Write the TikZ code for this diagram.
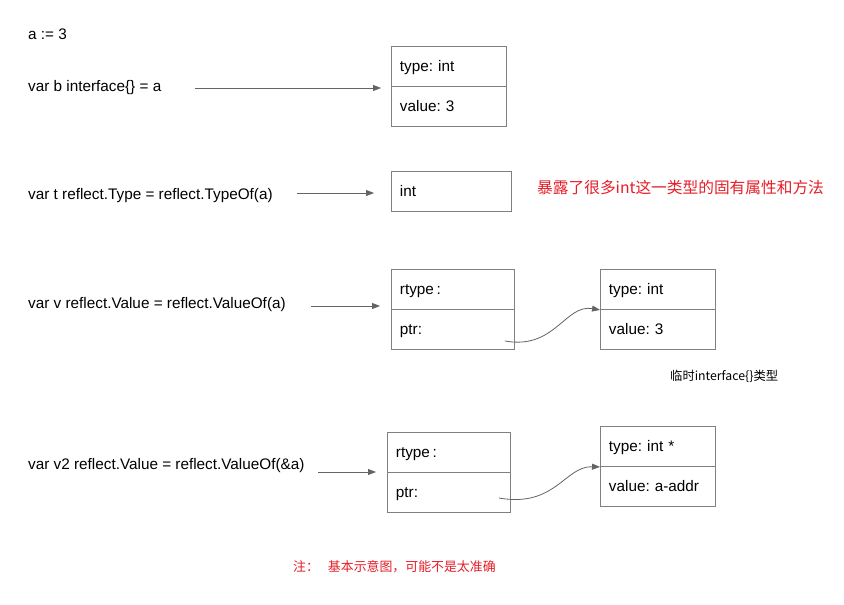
\documentclass[tikz,border=0pt]{standalone}
\usepackage{fontspec}
\setmainfont{Liberation Sans}
\newfontfamily\cjk{Noto Sans CJK SC}
\usetikzlibrary{arrows.meta}
\frenchspacing
\definecolor{linegray}{RGB}{100,100,100}
\definecolor{boxgray}{RGB}{128,128,128}
\definecolor{notered}{RGB}{230,30,40}
\tikzset{
  txt/.style={anchor=west,inner sep=0pt,font=\fontsize{15.3}{17}\selectfont},
  cell/.style={draw=boxgray,line width=0.9pt,minimum height=40pt,anchor=north west,inner ysep=0pt,inner xsep=8.5pt,
     text width=#1-17pt,minimum width=#1,align=left,font=\fontsize{15.3}{17}\selectfont,text depth=0pt},
  conn/.style={draw=linegray,line width=0.8pt,-{Triangle[length=8pt,width=6pt]}},
}
\begin{document}
\begin{tikzpicture}[x=1pt,y=-1pt]
\useasboundingbox[fill=white] (0,0) rectangle (844,605);
% texts
\node[txt] (ta) at (28,34) {a := 3};
\node[txt] (tb) at (28,88) {var b interface\{\} = a};
\node[txt] (tt) at (28,196) {var t reflect.Type = reflect.TypeOf(a)};
\node[txt] (tv) at (28,305) {var v reflect.Value = reflect.ValueOf(a)};
\node[txt] (tv2) at (28,466) {var v2 reflect.Value = reflect.ValueOf(\&a)};
% box b
\node[cell=115pt] (b1) at (391,46) {type: int};
\node[cell=115pt] (b2) at (391,86) {value: 3};
% box t
\node[cell=120pt] (t1) at (391,171) {int};
% box v
\node[cell=123pt] (v1) at (391,269) {rtype\,:};
\node[cell=123pt] (v2) at (391,309) {ptr:};
\node[cell=115pt] (w1) at (600,269) {type: int};
\node[cell=115pt] (w2) at (600,309) {value: 3};
% box v2
\node[cell=123pt] (x1) at (387,432) {rtype\,:};
\node[cell=123pt] (x2) at (387,472) {ptr:};
\node[cell=115pt] (y1) at (600,426) {type: int *};
\node[cell=115pt] (y2) at (600,466) {value: a-addr};
% arrows
\coordinate (sb) at (195,88);  \coordinate (eb) at (381,88);
\coordinate (st) at (297,193); \coordinate (et) at (374,193);
\coordinate (sv) at (311,306); \coordinate (ev) at (380,306);
\coordinate (sv2) at (318,472); \coordinate (ev2) at (376,472);
\draw[conn] (sb) -- (eb);
\draw[conn] (st) -- (et);
\draw[conn] (sv) -- (ev);
\draw[conn] (sv2) -- (ev2);
\coordinate (pv) at (505,341);
\coordinate (pv2) at (499,498);
\draw[conn] (pv) .. controls (555,350) and (565,304) .. (w1.south west);
\draw[conn] (pv2) .. controls (555,508) and (565,466) .. (y1.south west);
% notes
\node[anchor=west,inner sep=0pt,text=notered,font=\cjk\fontsize{15.7}{18}\selectfont] (n1) at (537,188) {暴露了很多int这一类型的固有属性和方法};
\node[anchor=west,inner sep=0pt,font=\cjk\fontsize{12.3}{14}\selectfont] (n2) at (670,376) {临时interface\{\}类型};
\node[anchor=west,inner sep=0pt,text=notered,font=\cjk\fontsize{12.9}{15}\selectfont] (n3) at (293,567) {注：\hspace{9pt}基本示意图，可能不是太准确};
\end{tikzpicture}
\end{document}
